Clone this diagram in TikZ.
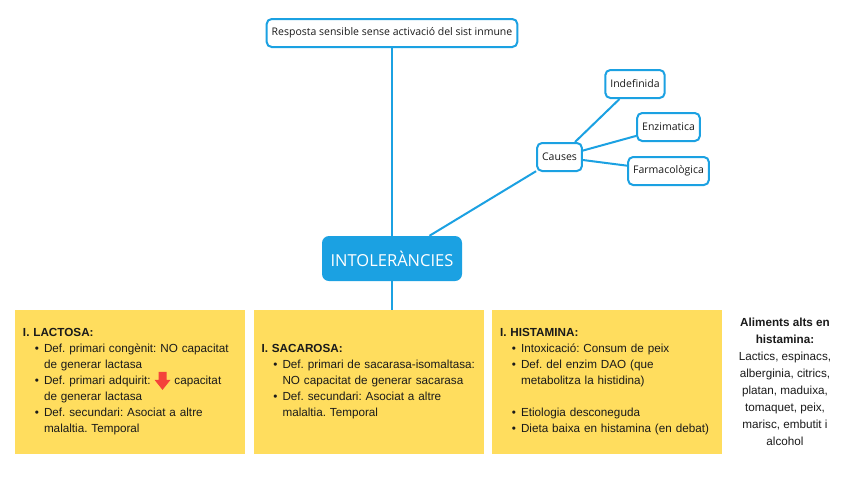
\documentclass[tikz,border=0pt]{standalone}
\usepackage{fontspec}
\setmainfont{Liberation Sans}
\newfontfamily\mapfont{Open Sans}
\usepackage{xcolor}
\usepackage{enumitem}
\usepackage{tikz}
\usetikzlibrary{positioning}
\definecolor{mapblue}{HTML}{1BA1E2}
\definecolor{boxyellow}{HTML}{FFDD5E}
\definecolor{arrowred}{HTML}{F4433A}
\definecolor{inktext}{HTML}{1A1A1A}
\tikzstyle{line} = [draw=mapblue, line width=2pt]
\tikzstyle{leaf} = [draw=mapblue, line width=2pt, fill=white, rounded corners=5pt, inner xsep=5pt, minimum height=28pt, text=inktext, font=\mapfont\fontsize{10.5}{12}\selectfont]
\tikzstyle{root} = [fill=mapblue, text=white, rounded corners=7pt, minimum width=140pt, minimum height=45pt, font=\mapfont\fontsize{16.5}{18}\selectfont]
\tikzstyle{yellowbox} = [fill=boxyellow, text=inktext, text width=214pt, inner xsep=8pt, minimum height=144pt, align=left, font=\fontsize{11.7}{16}\selectfont]
\setlist[itemize]{nosep, leftmargin=21pt, labelsep=5pt, label=\textbullet}
\newcommand{\baixa}{\tikz[x=1pt,y=1pt,baseline=0pt]\fill[arrowred] (-4,13)--(4,13)--(4,5)--(8,5)--(0,-5)--(-8,5)--(-4,5)--cycle;}
\frenchspacing

\begin{document}
\begin{tikzpicture}[x=1pt,y=-1pt]
  \useasboundingbox[fill=white] (0,0) rectangle (848,477); % page 848x477

  % mind map
  \node[leaf] (resp) at (392,33) {Resposta sensible sense activació del sist inmune};
  \node[root] (intol) at (392,258.5) {INTOLERÀNCIES};
  \node[leaf] (causes) at (559.5,157) {Causes};
  \node[leaf] (indef) at (635,84) {Indefinida};
  \node[leaf] (enzim) at (668.5,127) {Enzimatica};
  \node[leaf] (farma) at (668.5,171) {Farmacològica};

  % yellow boxes
  \node[yellowbox] (lact) at (130,382) {\textbf{I. LACTOSA:}
    \begin{itemize}
      \item Def. primari congènit: NO capacitat\newline de generar lactasa
      \item Def. primari adquirit: \baixa{} capacitat\newline de generar lactasa
      \item Def. secundari: Asociat a altre\newline malaltia. Temporal
    \end{itemize}};
  \node[yellowbox] (sac) at (368.5,382) {\textbf{I. SACAROSA:}
    \begin{itemize}
      \item Def. primari de sacarasa-isomaltasa:\newline NO capacitat de generar sacarasa
      \item Def. secundari: Asociat a altre\newline malaltia. Temporal
    \end{itemize}};
  \node[yellowbox] (hist) at (607,382) {\textbf{I. HISTAMINA:}
    \begin{itemize}
      \item Intoxicació: Consum de peix
      \item Def. del enzim DAO (que\newline metabolitza la histidina)\newline\mbox{}
      \item Etiologia desconeguda
      \item Dieta baixa en histamina (en debat)
    \end{itemize}};
  \node[align=center, text=inktext, font=\fontsize{11.7}{17}\selectfont] (alim) at (785,382)
    {\textbf{Aliments alts en}\\ \textbf{histamina:}\\ Lactics, espinacs,\\ alberginia, citrics,\\ platan, maduixa,\\ tomaquet, peix,\\ marisc, embutit i\\ alcohol};

  % connectors
  \path[line] (resp) -- (intol);
  \path[line] (intol) -- (causes);
  \path[line] (causes) -- (indef);
  \path[line] (causes) -- (enzim);
  \path[line] (causes) -- (farma);
  \path[line] (intol.south) -- (intol.south |- sac.north);
\end{tikzpicture}
\end{document}
